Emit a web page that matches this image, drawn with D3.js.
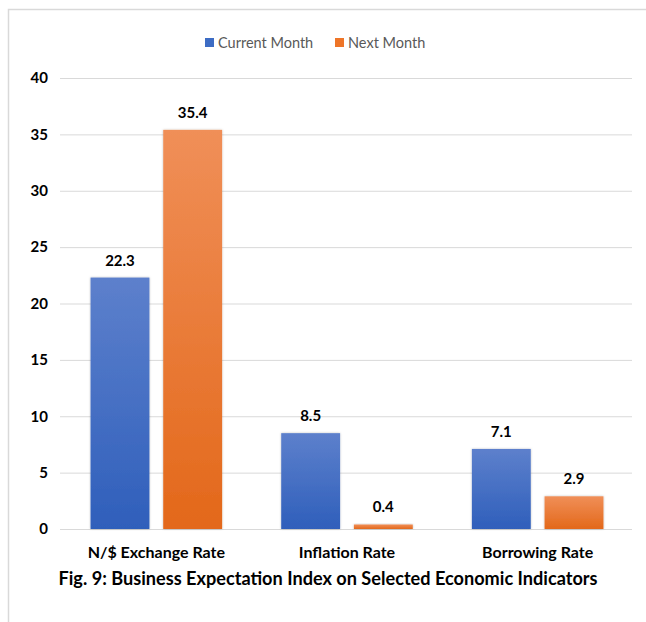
<!DOCTYPE html>
<html><head><meta charset="utf-8">
<script src="https://cdn.jsdelivr.net/npm/d3@7"></script>
<style>body{margin:0;background:#fff}svg{display:block}</style>
</head><body>
<script>
const categories = ["N/$ Exchange Rate", "Inflation Rate", "Borrowing Rate"];
const seriesNames = ["Current Month", "Next Month"];
const currentMonth = [22.3, 8.5, 7.1];
const nextMonth = [35.4, 0.4, 2.9];
const yTicks = [0, 5, 10, 15, 20, 25, 30, 35, 40];
const title = "Fig. 9: Business Expectation Index on Selected Economic Indicators";

const W = 646, H = 622;
const FONT = "Lato, 'Open Sans', sans-serif";
const svg = d3.select("body").append("svg").attr("width", W).attr("height", H);

const defs = svg.append("defs");
const grads = [
  {id: "gBlue", top: "#5d80cc", bot: "#2f5fbb"},
  {id: "gOrange", top: "#f08f58", bot: "#e3681a"}
];
grads.forEach(g => {
  const lg = defs.append("linearGradient").attr("id", g.id).attr("x1", 0).attr("y1", 0).attr("x2", 0).attr("y2", 1);
  lg.append("stop").attr("offset", "0%").attr("stop-color", g.top);
  lg.append("stop").attr("offset", "100%").attr("stop-color", g.bot);
});
const f = defs.append("filter").attr("id", "sh").attr("x", "-20%").attr("y", "-20%").attr("width", "140%").attr("height", "140%");
f.append("feDropShadow").attr("dx", 0).attr("dy", 0).attr("stdDeviation", 1.2).attr("flood-color", "#000").attr("flood-opacity", 0.25);

// frame
svg.append("path").attr("d", `M8.5,${H} V9.5 H${W}`).attr("fill", "none").attr("stroke", "#d9d9d9").attr("stroke-width", 1.5);

const x0 = d3.scaleBand().domain(categories).range([61, 633]).paddingInner(0.31).paddingOuter(0.155);
const x1 = d3.scaleBand().domain(seriesNames).range([0, x0.bandwidth()]).paddingInner(0.19);
const y = d3.scaleLinear().domain([0, 40]).range([529, 78]);

// gridlines
const yAxis = d3.axisLeft(y).tickValues(yTicks).tickSize(-(632 - 60)).tickPadding(12);
const gy = svg.append("g").attr("transform", "translate(60,0)").call(yAxis);
gy.select(".domain").remove();
gy.selectAll(".tick line").attr("stroke", "#d9d9d9").attr("stroke-width", 1);
gy.selectAll(".tick text").attr("font-family", FONT).attr("font-weight", "bold").attr("font-size", 15).attr("fill", "#000").attr("x", -12);

const data = categories.map((c, i) => ({cat: c, vals: [
  {s: seriesNames[0], v: currentMonth[i], g: "gBlue"},
  {s: seriesNames[1], v: nextMonth[i], g: "gOrange"}
]}));

const groups = svg.selectAll("g.grp").data(data).enter().append("g").attr("class", "grp")
  .attr("transform", d => `translate(${x0(d.cat)},0)`);
groups.selectAll("rect").data(d => d.vals).enter().append("rect")
  .attr("x", d => x1(d.s)).attr("width", x1.bandwidth())
  .attr("y", d => y(d.v)).attr("height", d => y(0) - y(d.v))
  .attr("fill", d => `url(#${d.g})`).attr("filter", "url(#sh)");
groups.selectAll("text.val").data(d => d.vals).enter().append("text").attr("class", "val")
  .attr("x", d => x1(d.s) + x1.bandwidth() / 2).attr("y", d => y(d.v) - 12)
  .attr("text-anchor", "middle").attr("font-family", FONT).attr("font-weight", "bold").attr("font-size", 15)
  .attr("fill", "#000").text(d => d.v.toFixed(1));

// category axis labels
const xAxis = d3.axisBottom(x0).tickSize(0).tickPadding(18);
const gx = svg.append("g").attr("transform", "translate(0,529)").call(xAxis);
gx.select(".domain").remove();
gx.selectAll(".tick text").attr("font-family", FONT).attr("font-weight", "bold").attr("font-size", 16).attr("fill", "#000");

// title
svg.append("text").attr("x", 328).attr("y", 585).attr("text-anchor", "middle")
  .attr("font-family", FONT).attr("font-weight", "bold").attr("font-size", 18).attr("fill", "#000")
  .attr("textLength", 539).attr("lengthAdjust", "spacingAndGlyphs").text(title);

// legend
const legColors = ["#3d6cc4", "#ee7528"];
const legX = [205, 335];
const leg = svg.append("g");
seriesNames.forEach((s, i) => {
  leg.append("rect").attr("x", legX[i]).attr("y", 38).attr("width", 9).attr("height", 9).attr("fill", legColors[i]);
  leg.append("text").attr("x", legX[i] + 13).attr("y", 47.5).attr("font-family", FONT).attr("font-size", 14.5)
    .attr("fill", "#595959").text(s);
});
</script>
</body></html>
